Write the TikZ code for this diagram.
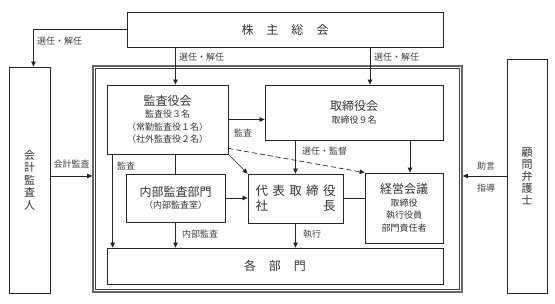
\documentclass[tikz,border=0pt]{standalone}
\usepackage{fontspec}
\setmainfont{Noto Sans CJK JP}
\usetikzlibrary{arrows.meta,calc}

\newcommand{\subtxt}{\fontsize{9}{12.5}\selectfont}

\begin{document}
\begin{tikzpicture}[x=1pt, y=-1pt,
  unit/.style={draw=black!85, line width=0.8pt, inner sep=0pt, align=center, text=black!80, font=\fontsize{12}{12.5}\selectfont},
  arr/.style={-{Triangle[length=5pt,width=4.5pt]}, line width=0.7pt, draw=black!85},
  lnk/.style={line width=0.7pt, draw=black!85},
  lbl/.style={font=\fontsize{9}{10}\selectfont, text=black!75, inner sep=1pt}]
\useasboundingbox (0,0) rectangle (555,304);

% Outer frame
\node[draw=black!60, line width=1.6pt, minimum width=369pt, minimum height=226pt] (frame) at (277.5,179) {};
\draw[black!75, line width=0.6pt] ($(frame.south west)+(3.5,-3.5)$) rectangle ($(frame.north east)+(-3.5,3.5)$);

% Boxes
\node[unit, minimum width=316pt, minimum height=35pt] (soukai) at (285,29.5) {株\hspace{13pt}主\hspace{13pt}総\hspace{13pt}会};
\node[unit, minimum width=41pt, minimum height=226pt, font=\fontsize{11}{12.5}\selectfont] (kaikei) at (29.5,180) {会\\計\\監\\査\\人};
\node[unit, minimum width=40pt, minimum height=234pt, font=\fontsize{11}{12}\selectfont] (komon) at (527,176) {顧\\問\\弁\\護\\士};
\node[unit, minimum width=121pt, minimum height=69pt] (kansa) at (167.5,119.5) {監査役会\\\subtxt 監査役３名\\\subtxt （常勤監査役１名）\\\subtxt （社外監査役２名）};
\node[unit, minimum width=178pt, minimum height=55pt] (torishimari) at (354,112.5) {取締役会\\\subtxt 取締役９名};
\node[unit, minimum width=99pt, minimum height=48pt] (naibu) at (175.5,198) {内部監査部門\\\subtxt （内部監査室）};
\node[unit, minimum width=95pt, minimum height=49pt, font=\fontsize{12.5}{15}\selectfont] (shacho) at (295.5,198.5) {\makebox[80pt]{代\hfill 表\hfill 取\hfill 締\hfill 役}\\\makebox[80pt]{社\hfill 長}};
\node[unit, minimum width=78pt, minimum height=70pt] (keiei) at (404,208) {経営会議\\\subtxt 取締役\\\subtxt 執行役員\\\subtxt 部門責任者};
\node[unit, minimum width=336pt, minimum height=36pt] (kakubu) at (275,266) {各\hspace{13pt}部\hspace{13pt}門};

% Arrows
\coordinate (r1) at (370,0);
\coordinate (k1) at ([xshift=6pt]keiei.north);
\coordinate (a1) at ([xshift=6pt]kansa.south west);
\draw[arr] (soukai.west) -| ([xshift=4pt]kaikei.north);
\draw[arr] (soukai.south -| naibu.north) -- (kansa.north -| naibu.north);
\draw[arr] (soukai.south -| r1) -- (torishimari.north -| r1);
\draw[arr] (kansa.east) -- (kansa.east -| torishimari.west);
\draw[arr] (kansa.south east) -- (shacho.north west);
\draw[arr, dash pattern=on 5pt off 3pt] ([yshift=6pt]kansa.south east) -- (keiei.north west);
\draw[lnk] (kansa.south -| naibu.north) -- (naibu.north);
\draw[arr] (a1) -- (a1 |- kakubu.north);
\draw[arr] (naibu.south) -- (naibu.south |- kakubu.north);
\draw[arr] (shacho.south) -- (shacho.south |- kakubu.north);
\draw[arr] (naibu.east) -- (naibu.east -| shacho.west);
\draw[lnk] (shacho.east) -- (shacho.east -| keiei.west);
\draw[arr] (torishimari.south -| shacho.north) -- (shacho.north);
\draw[arr] (torishimari.south -| k1) -- (k1);
\draw[arr] (kaikei.east |- komon.west) -- (komon.west -| frame.west);
\draw[arr] (komon.west) -- (komon.west -| frame.east);

% Labels
\node[lbl, anchor=west] (lsen1) at (36,41) {選任・解任};
\node[lbl, anchor=west] (lsen2) at (178,57) {選任・解任};
\node[lbl, anchor=west] (lsen3) at (373,57) {選任・解任};
\node[lbl, anchor=west] (lkan1) at (233,133) {監査};
\node[lbl, anchor=west] (lkan2) at (116,166) {監査};
\node[lbl] (lkaikei) at (71.5,164) {会計監査};
\node[lbl, anchor=west] (lkantoku) at (301,151) {選任・監督};
\node[lbl, anchor=west] (lnaibu) at (181,234) {内部監査};
\node[lbl, anchor=west] (lshikko) at (302,234) {執行};
\node[lbl] (ljogen) at (486,166) {助言};
\node[lbl] (lshido) at (486,188) {指導};
\end{tikzpicture}
\end{document}
